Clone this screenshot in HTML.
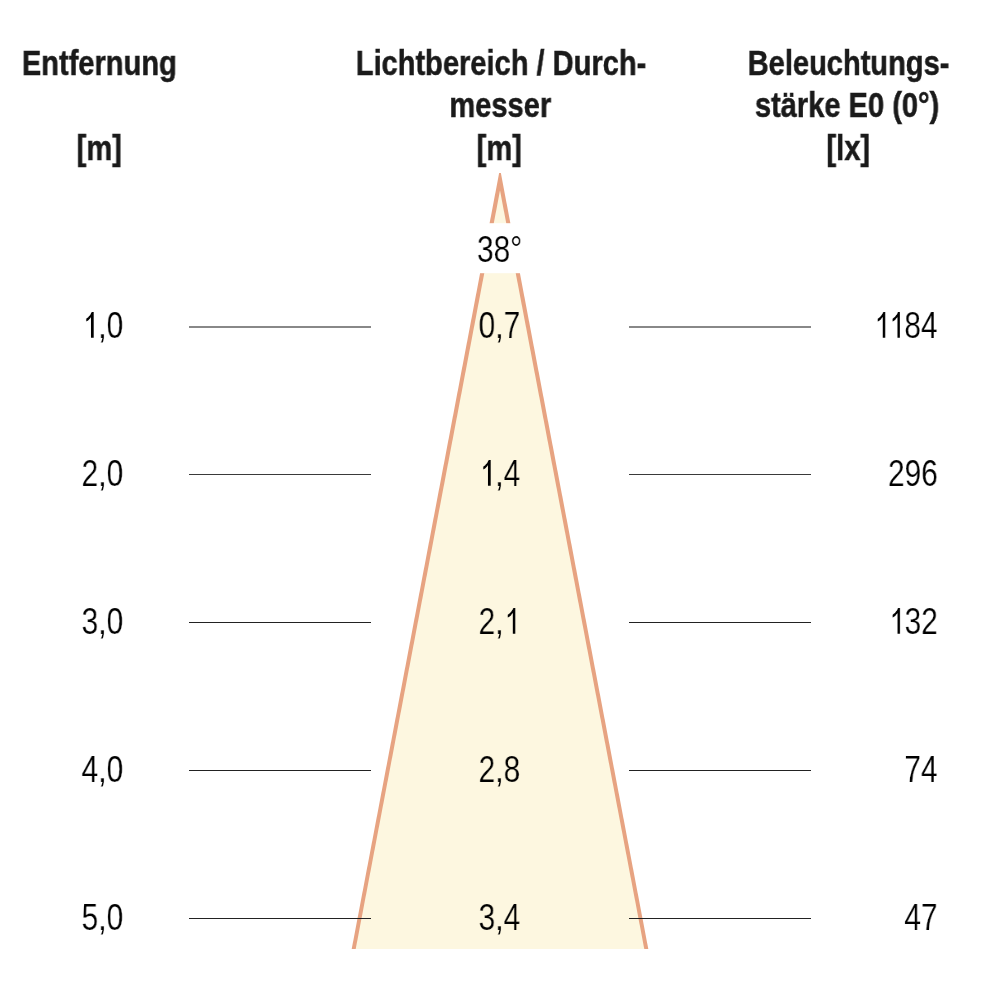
<!DOCTYPE html>
<html><head><meta charset="utf-8">
<style>
html,body{margin:0;padding:0;background:#fff;}
body{width:1000px;height:1000px;position:relative;overflow:hidden;font-family:"Liberation Sans",sans-serif;}
.t{position:absolute;white-space:nowrap;text-align:center;width:600px;}
.t span,.r span{display:inline-block;will-change:transform;}
.h{font-weight:bold;font-size:35px;line-height:42px;color:#1a1a1a;}
.h span{transform:scaleX(0.83);-webkit-text-stroke:0.5px #1a1a1a;}
.n{font-size:36.5px;line-height:42px;color:#000;}
.n span{transform:scaleX(0.82);-webkit-text-stroke:0.2px #fff;}
.c span{-webkit-text-stroke-color:#FDF7E0;}
.d1{position:relative;color:transparent;-webkit-text-stroke-color:transparent !important;}
.d1 svg{position:absolute;left:0;top:7.2px;width:20.3px;height:25.7px;overflow:visible;}
.r{position:absolute;white-space:nowrap;text-align:right;}
.ln{position:absolute;height:1px;background:#222;}
svg{position:absolute;left:0;top:0;}
</style></head><body>
<svg width="1000" height="1000" viewBox="0 0 1000 1000">
  <polygon points="499.15,173 500.85,173 648.3,949 351.7,949" fill="#E7A381"/>
  <polygon points="500,190.5 355.7,949 644.3,949" fill="#FDF7E0"/>
  <rect x="440" y="223.2" width="120" height="50" fill="#fff"/>
</svg>
<div class="ln" style="left:189px;width:182px;top:326px;height:2px;background:#888"></div>
<div class="ln" style="left:629px;width:182px;top:326px;height:2px;background:#888"></div>
<div class="ln" style="left:189px;width:182px;top:474px;background:#3a3a3a"></div>
<div class="ln" style="left:629px;width:182px;top:474px;background:#3a3a3a"></div>
<div class="ln" style="left:189px;width:182px;top:622px"></div>
<div class="ln" style="left:629px;width:182px;top:622px"></div>
<div class="ln" style="left:189px;width:182px;top:770px"></div>
<div class="ln" style="left:629px;width:182px;top:770px"></div>
<div class="ln" style="left:189px;width:182px;top:918px"></div>
<div class="ln" style="left:629px;width:182px;top:918px"></div>

<div class="t h" style="left:-201px;top:41.6px"><span>Entfernung</span></div>
<div class="t h" style="left:-200.5px;top:126.6px"><span>[m]</span></div>
<div class="t h" style="left:201px;top:41.6px"><span>Lichtbereich / Durch-</span></div>
<div class="t h" style="left:200.4px;top:84.3px"><span>messer</span></div>
<div class="t h" style="left:199.6px;top:126.6px"><span>[m]</span></div>
<div class="t h" style="left:548.7px;top:41.6px"><span>Beleuchtungs-</span></div>
<div class="t h" style="left:547.3px;top:84.3px"><span>stärke E0 (0°)</span></div>
<div class="t h" style="left:548.5px;top:126.6px"><span>[lx]</span></div>

<div class="t n" style="left:200px;top:229px"><span>38°</span></div>

<div class="t n" style="left:-197.5px;top:305px"><span><span class="d1">1<svg viewBox="0 0 1139 1430" preserveAspectRatio="none"><path d="M881 1430L670 1430L670 283Q595 360 490 425Q390 488 260 532L260 382Q440 300 555 190Q670 90 720 0L881 0Z"/></svg></span>,0</span></div>
<div class="t n" style="left:-197.5px;top:453px"><span>2,0</span></div>
<div class="t n" style="left:-197.5px;top:601px"><span>3,0</span></div>
<div class="t n" style="left:-197.5px;top:749px"><span>4,0</span></div>
<div class="t n" style="left:-197.5px;top:897px"><span>5,0</span></div>

<div class="t n c" style="left:199.5px;top:305px"><span>0,7</span></div>
<div class="t n c" style="left:199.5px;top:453px"><span><span class="d1">1<svg viewBox="0 0 1139 1430" preserveAspectRatio="none"><path d="M881 1430L670 1430L670 283Q595 360 490 425Q390 488 260 532L260 382Q440 300 555 190Q670 90 720 0L881 0Z"/></svg></span>,4</span></div>
<div class="t n c" style="left:199.5px;top:601px"><span>2,<span class="d1">1<svg viewBox="0 0 1139 1430" preserveAspectRatio="none"><path d="M881 1430L670 1430L670 283Q595 360 490 425Q390 488 260 532L260 382Q440 300 555 190Q670 90 720 0L881 0Z"/></svg></span></span></div>
<div class="t n c" style="left:199.5px;top:749px"><span>2,8</span></div>
<div class="t n c" style="left:199.5px;top:897px"><span>3,4</span></div>

<div class="r n" style="right:62px;top:305px"><span style="transform-origin:right center"><span class="d1" style="margin-right:-2.71px">1<svg viewBox="0 0 1139 1430" preserveAspectRatio="none"><path d="M881 1430L670 1430L670 283Q595 360 490 425Q390 488 260 532L260 382Q440 300 555 190Q670 90 720 0L881 0Z"/></svg></span><span class="d1">1<svg viewBox="0 0 1139 1430" preserveAspectRatio="none"><path d="M881 1430L670 1430L670 283Q595 360 490 425Q390 488 260 532L260 382Q440 300 555 190Q670 90 720 0L881 0Z"/></svg></span>84</span></div>
<div class="r n" style="right:62px;top:453px"><span style="transform-origin:right center">296</span></div>
<div class="r n" style="right:62px;top:601px"><span style="transform-origin:right center"><span class="d1">1<svg viewBox="0 0 1139 1430" preserveAspectRatio="none"><path d="M881 1430L670 1430L670 283Q595 360 490 425Q390 488 260 532L260 382Q440 300 555 190Q670 90 720 0L881 0Z"/></svg></span>32</span></div>
<div class="r n" style="right:62px;top:749px"><span style="transform-origin:right center">74</span></div>
<div class="r n" style="right:62px;top:897px"><span style="transform-origin:right center">47</span></div>
</body></html>
